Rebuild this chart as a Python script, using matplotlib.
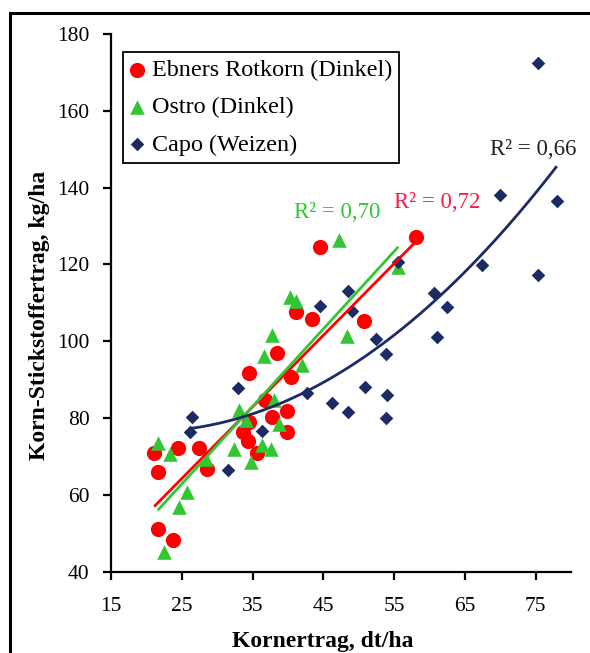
import numpy as np
import matplotlib
matplotlib.use("Agg")
import matplotlib.pyplot as plt
from matplotlib.patches import Rectangle

plt.rcParams['font.family'] = ['Liberation Serif', 'DejaVu Serif']

# Grain yield (dt/ha) and grain nitrogen yield (kg/ha)
ebners_x = [21.1, 21.6, 21.6, 23.7, 24.4, 27.5, 28.6, 33.6, 34.3, 34.5, 35.7, 36.8,
            37.8, 39.9, 39.9, 34.5, 38.4, 40.5, 41.2, 43.4, 44.6, 50.7, 58.1]
ebners_y = [70.8, 66.0, 51.0, 48.3, 72.1, 72.1, 66.7, 76.5, 73.9, 79.1, 70.8, 84.7,
            80.4, 81.8, 76.5, 91.8, 96.9, 90.6, 107.7, 105.8, 124.5, 105.3, 127.1]

ostro_x = [21.6, 23.4, 22.5, 24.6, 25.7, 28.4, 32.4, 34.8, 36.4, 37.6, 33.1, 34.1,
           38.0, 38.7, 36.6, 37.7, 40.3, 41.1, 42.0, 47.2, 48.3, 55.6]
ostro_y = [73.6, 70.6, 45.2, 56.8, 60.8, 69.4, 71.9, 68.5, 72.9, 72.0, 82.0, 79.4,
           84.6, 78.5, 96.1, 101.5, 111.6, 110.4, 93.9, 126.3, 101.3, 119.4]

capo_x = [26.2, 26.5, 31.5, 32.9, 36.4, 42.7, 44.6, 46.2, 48.5, 48.5, 49.1, 50.9,
          52.5, 53.8, 54.0, 53.8, 55.6, 60.6, 61.1, 62.5, 67.4, 69.9, 75.4, 75.4, 78.0]
capo_y = [76.5, 80.4, 66.4, 87.9, 76.6, 86.4, 109.2, 84.0, 81.7, 113.1, 107.9, 88.2,
          100.5, 96.7, 86.0, 79.9, 120.7, 112.5, 101.0, 109.0, 119.9, 138.1, 117.3, 172.4, 136.4]

series_labels = ["Ebners Rotkorn (Dinkel)", "Ostro (Dinkel)", "Capo (Weizen)"]
r2_labels = ["R² = 0,72", "R² = 0,70", "R² = 0,66"]
x_ticks = [15, 25, 35, 45, 55, 65, 75]
y_ticks = [40, 60, 80, 100, 120, 140, 160, 180]

RED = "#ff0000"
GREEN = "#33c633"
NAVY = "#1c2a66"

W, H = 590, 653
fig = plt.figure(figsize=(W / 100, H / 100), dpi=100)
fig.patch.set_facecolor("white")

# outer frame (open to the right and bottom)
fig.add_artist(Rectangle((10 / W, -0.1), 1.2, 1 - 13 / H + 0.1, transform=fig.transFigure,
                         fill=False, edgecolor="black", linewidth=2.2))

ax = fig.add_axes([111 / W, 1 - 571.7 / H, (571 - 111) / W, (571.7 - 34) / H])
ax.set_xlim(15, 80)
ax.set_ylim(40, 180)

ax.scatter(ebners_x, ebners_y, s=120, marker="o", color=RED, linewidths=0, zorder=3,
           label=series_labels[0])
ax.scatter(ostro_x, ostro_y, s=110, marker="^", color=GREEN, linewidths=0, zorder=4,
           label=series_labels[1])
ax.scatter(capo_x, capo_y, s=48, marker="D", color=NAVY, linewidths=0, zorder=5,
           label=series_labels[2])

# trend lines: linear for the spelt varieties, quadratic for wheat
def trend(xs, ys, deg, color):
    xs = np.asarray(xs)
    coef = np.polyfit(xs, ys, deg)
    xx = np.linspace(xs.min(), xs.max(), 200)
    ax.plot(xx, np.polyval(coef, xx), color=color, linewidth=2.0, zorder=6,
            solid_capstyle="butt")

trend(ebners_x, ebners_y, 1, RED)
trend(ostro_x, ostro_y, 1, GREEN)
trend(capo_x, capo_y, 2, NAVY)

ax.text(61.1, 136.0, r2_labels[0], color="#f0204a", fontsize=16.5, ha="center", va="center")
ax.text(46.9, 133.4, r2_labels[1], color=GREEN, fontsize=16.5, ha="center", va="center")
ax.text(74.6, 149.8, r2_labels[2], color="#222222", fontsize=16.5, ha="center", va="center")

for side in ("top", "right"):
    ax.spines[side].set_visible(False)
for side in ("left", "bottom"):
    ax.spines[side].set_linewidth(1.6)
ax.set_xticks(x_ticks)
ax.set_yticks(y_ticks)
ax.tick_params(direction="out", length=5.5, width=1.6, labelsize=15.5, colors="black")
ax.tick_params(axis="x", pad=12.5)
ax.tick_params(axis="y", pad=10)

fig.text(323 / W, 1 - 642 / H, "Kornertrag, dt/ha", fontsize=17, fontweight="bold",
         ha="center", va="center")
fig.text(40 / W, 1 - 315 / H, "Korn-Stickstoffertrag, kg/ha", fontsize=17,
         fontweight="bold", rotation=90, ha="center", va="center")

leg = fig.legend(loc="upper left", bbox_to_anchor=(122.7 / W, 1 - 51.7 / H),
                 bbox_transform=fig.transFigure, borderaxespad=0, fontsize=17.4,
                 frameon=True, fancybox=False, edgecolor="black", framealpha=1,
                 handlelength=0.6, handletextpad=0.3, labelspacing=0.64,
                 borderpad=0.3, scatterpoints=1)
leg.get_frame().set_linewidth(1.3)

fig.savefig("out.png", dpi=100, facecolor="white")
